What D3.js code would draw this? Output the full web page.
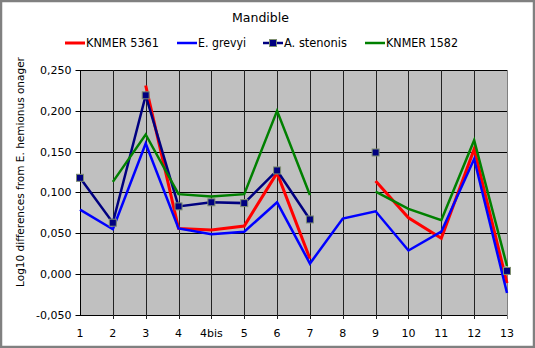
<!DOCTYPE html>
<html><head><meta charset="utf-8">
<script src="https://cdn.jsdelivr.net/npm/d3@7"></script>
<style>html,body{margin:0;padding:0;background:#fff}svg{display:block}text{font-family:"DejaVu Sans",Verdana,sans-serif;fill:#000}</style>
</head><body>
<script>
const categories = ["1","2","3","4","4bis","5","6","7","8","9","10","11","12","13"];
const knmer5361 = [null,null,0.231,0.056,0.054,0.059,0.124,0.019,null,0.114,0.069,0.044,0.153,-0.011];
const eGrevyi   = [0.079,0.055,0.160,0.056,0.049,0.052,0.088,0.013,0.068,0.077,0.029,0.052,0.141,-0.023];
const aStenonis = [0.118,0.063,0.219,0.083,0.088,0.087,0.127,0.067,null,0.149,null,null,null,0.004];
const knmer1582 = [null,0.113,0.171,0.098,0.095,0.098,0.200,0.097,null,0.101,0.080,0.066,0.164,0.010];
const yTicks = [-0.05,0,0.05,0.1,0.15,0.2,0.25];
const seriesNames = ["KNMER 5361","E. grevyi","A. stenonis","KNMER 1582"];

const W=535,H=348;
const svg=d3.select("body").append("svg").attr("width",W).attr("height",H);
svg.append("rect").attr("x",1).attr("y",1).attr("width",W-2).attr("height",H-2).attr("fill","#fff").attr("stroke","#808080").attr("stroke-width",2.5);

const x=d3.scalePoint().domain(categories).range([80,507]);
const y=d3.scaleLinear().domain([-0.05,0.25]).range([315,70]);
const fmt=d3.formatLocale({decimal:",",thousands:".",grouping:[3],currency:["",""],minus:"-"}).format(".3f");

// plot background
svg.append("rect").attr("x",80).attr("y",y(0.25)).attr("width",507-80).attr("height",y(-0.05)-y(0.25)).attr("fill","#c0c0c0");

// grid
const g=svg.append("g");
g.selectAll(".hg").data(yTicks).join("line").attr("x1",80).attr("x2",507)
 .attr("y1",d=>Math.round(y(d))+0.5).attr("y2",d=>Math.round(y(d))+0.5).attr("stroke","#000").attr("stroke-width",1);
g.selectAll(".vg").data(categories.slice(1)).join("line")
 .attr("x1",d=>Math.round(x(d))+0.5).attr("x2",d=>Math.round(x(d))+0.5)
 .attr("y1",y(0.25)).attr("y2",y(-0.05)+4).attr("stroke",(d,i)=>i==categories.length-2?"#808080":"#222").attr("stroke-width",1);

// y axis
const ya=svg.append("g").attr("transform","translate(80.5,0)")
 .call(d3.axisLeft(y).tickValues(yTicks).tickFormat(fmt).tickSize(5).tickPadding(4));
ya.select(".domain").attr("stroke","#000").attr("d","M0,"+y(0.25)+"V"+y(-0.05));
ya.selectAll("text").style("font-size","11px").attr("font-family","DejaVu Sans");
ya.selectAll(".tick").attr("transform",d=>"translate(0,"+(Math.round(y(d))+0.5)+")");

// x labels
svg.append("g").selectAll("text").data(categories).join("text")
 .attr("x",d=>x(d)).attr("y",337).attr("text-anchor","middle").style("font-size","11px").text(d=>d);

// series
const series=[
 {name:seriesNames[0],vals:knmer5361,color:"#ff0000",w:3},
 {name:seriesNames[1],vals:eGrevyi,color:"#0000ff",w:2.5},
 {name:seriesNames[2],vals:aStenonis,color:"#000080",w:2.5,marker:true},
 {name:seriesNames[3],vals:knmer1582,color:"#008000",w:2.5}
];
const line=d3.line().defined(d=>d.v!=null).x(d=>x(d.c)).y(d=>y(d.v));
series.forEach(s=>{
  const pts=categories.map((c,i)=>({c,v:s.vals[i]}));
  svg.append("path").datum(pts).attr("d",line).attr("fill","none").attr("stroke",s.color).attr("stroke-width",s.w).attr("stroke-linejoin","miter");
  if(s.marker){
    svg.append("g").selectAll("rect").data(pts.filter(d=>d.v!=null)).join("rect")
     .attr("x",d=>x(d.c)-3.5).attr("y",d=>y(d.v)-3.5).attr("width",7).attr("height",7)
     .attr("fill",s.color).attr("stroke","#7f8f70").attr("stroke-width",1);
  }
});

// title
svg.append("text").attr("x",232).attr("y",22).attr("textLength",57).attr("lengthAdjust","spacingAndGlyphs").style("font-size","13px").text("Mandible");

// legend
const leg=[{x:65,len:73},{x:177,len:48},{x:263,len:63},{x:365,len:72}];
series.forEach((s,i)=>{
  const lx=leg[i].x, ly=43;
  svg.append("line").attr("x1",lx).attr("x2",lx+20).attr("y1",ly).attr("y2",ly).attr("stroke",s.color).attr("stroke-width",s.w);
  if(s.marker) svg.append("rect").attr("x",lx+6.5).attr("y",ly-3.5).attr("width",7).attr("height",7).attr("fill",s.color).attr("stroke","#7f8f70");
  svg.append("text").attr("x",lx+21).attr("y",ly+4).attr("textLength",leg[i].len).attr("lengthAdjust","spacingAndGlyphs").style("font-size","11.5px").text(s.name);
});

// y title
svg.append("text").attr("transform","translate(24,172) rotate(-90)").attr("text-anchor","middle").style("font-size","10.5px").text("Log10 differences from E. hemionus onager");
</script>
</body></html>
